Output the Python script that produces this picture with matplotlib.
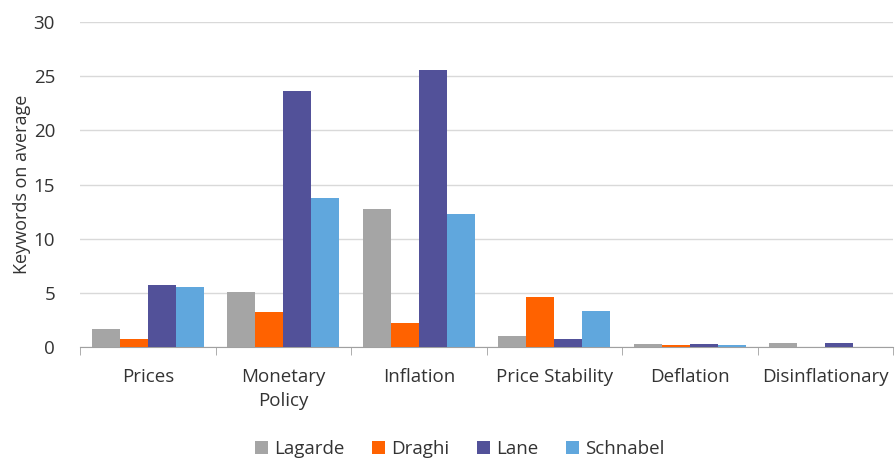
import matplotlib
matplotlib.use("Agg")
import matplotlib.pyplot as plt
import numpy as np

categories = ["Prices", "Monetary\nPolicy", "Inflation", "Price Stability", "Deflation", "Disinflationary"]
series_names = ["Lagarde", "Draghi", "Lane", "Schnabel"]
lagarde = [1.7, 5.1, 12.7, 1.0, 0.3, 0.4]
draghi = [0.75, 3.2, 2.2, 4.6, 0.2, 0.0]
lane = [5.7, 23.6, 25.6, 0.75, 0.3, 0.4]
schnabel = [5.55, 13.75, 12.3, 3.3, 0.15, 0.0]
colors = ["#A5A5A5", "#FF6200", "#525199", "#60A7DD"]
yticks = [0, 5, 10, 15, 20, 25, 30]

plt.rcParams['font.family'] = ['Open Sans', 'DejaVu Sans']

fig = plt.figure(figsize=(8.96, 4.59), dpi=100)
ax = fig.add_axes([0.0893, 0.244, 0.9074, 0.708])

x = np.arange(len(categories))
bw = 0.207
data = [lagarde, draghi, lane, schnabel]
for i, (vals, name, c) in enumerate(zip(data, series_names, colors)):
    ax.bar(x + (i - 1.5) * bw, vals, width=bw, color=c, label=name, zorder=3)

ax.set_xlim(-0.5, len(categories) - 0.5)
ax.set_ylim(0, 30)
ax.set_yticks(yticks)
ax.yaxis.grid(True, color="#D9D9D9", linewidth=1, zorder=0)
for s in ["top", "right", "left"]:
    ax.spines[s].set_visible(False)
ax.spines["bottom"].set_color("#A0A0A0")
ax.tick_params(axis="y", length=0, labelsize=13.5, colors="#333333", pad=18)
ax.set_xticks(x)
ax.set_xticklabels(categories, fontsize=13.5, color="#333333", linespacing=1.45)
ax.tick_params(axis="x", length=0, pad=15)
ax.set_xticks(np.arange(-0.5, len(categories) + 0.5, 1), minor=True)
ax.tick_params(axis="x", which="minor", length=6, color="#A0A0A0")
ax.set_ylabel("Keywords on average", fontsize=13, color="#333333", labelpad=2)

fig.legend(*ax.get_legend_handles_labels(), loc="center", bbox_to_anchor=(0.513, 0.022), ncol=4,
           frameon=False, fontsize=13.5, handlelength=0.7, handleheight=0.7, handletextpad=0.3,
           columnspacing=1.5, labelcolor="#333333", borderaxespad=0, borderpad=0)

fig.savefig("out.png", dpi=100)
